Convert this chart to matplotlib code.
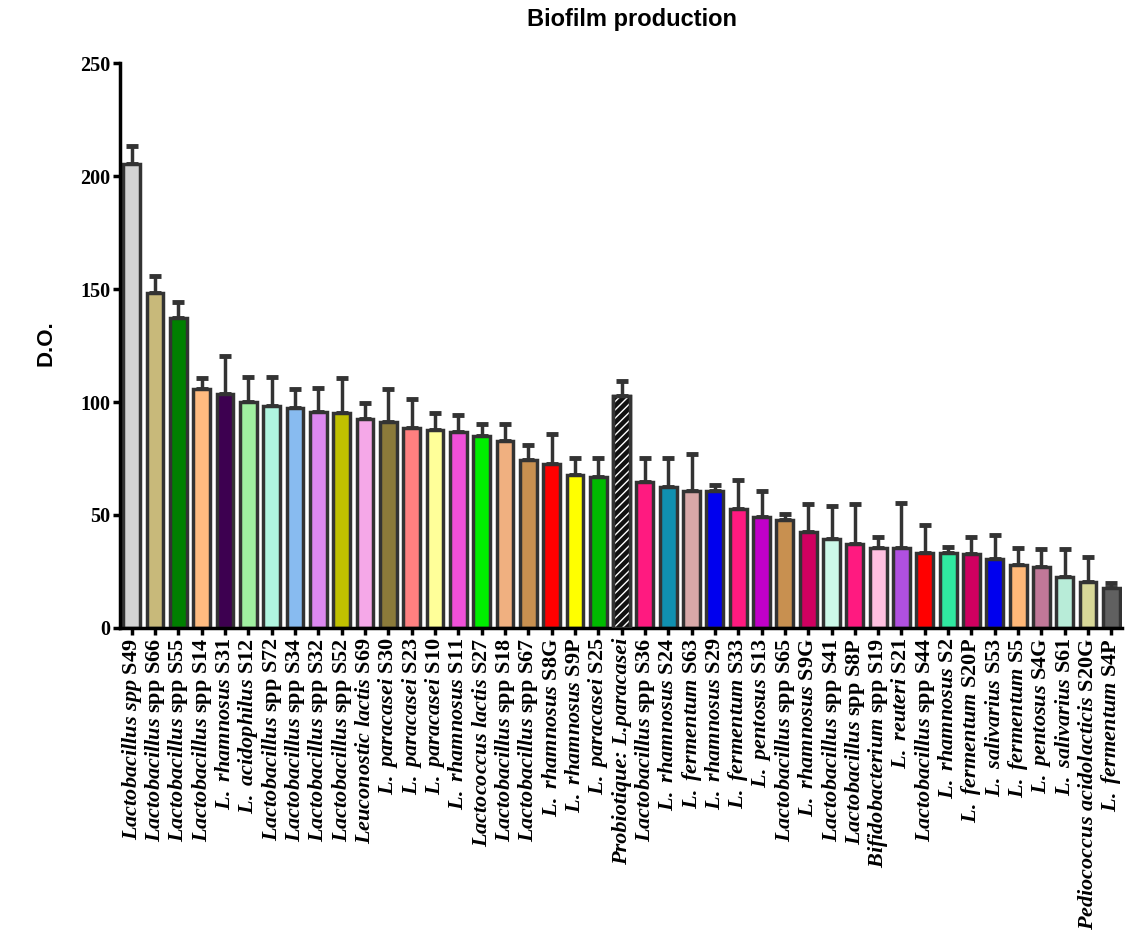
import numpy as np
import matplotlib
matplotlib.use("Agg")
import matplotlib.pyplot as plt

plt.rcParams['mathtext.fontset'] = 'custom'
plt.rcParams['mathtext.it'] = 'Liberation Serif:italic:bold'
plt.rcParams['mathtext.rm'] = 'Liberation Serif:bold'
plt.rcParams['mathtext.bf'] = 'Liberation Serif:bold'

# species (italic part) and strain (upright part)
species = ["Lactobacillus spp", "Lactobacillus", "Lactobacillus", "Lactobacillus",
           "L. rhamnosus", "L. acidophilus", "Lactobacillus", "Lactobacillus",
           "Lactobacillus", "Lactobacillus", "Leuconostic lactis", "L. paracasei",
           "L. paracasei", "L. paracasei", "L. rhamnosus", "Lactococcus lactis",
           "Lactobacillus", "Lactobacillus", "L. rhamnosus", "L. rhamnosus",
           "L. paracasei", "Probiotique: L.paracasei", "Lactobacillus", "L. rhamnosus",
           "L. fermentum", "L. rhamnosus", "L. fermentum", "L. pentosus",
           "Lactobacillus", "L. rhamnosus", "Lactobacillus", "Lactobacillus",
           "Bifidobacterium", "L. reuteri", "Lactobacillus", "L. rhamnosus",
           "L. fermentum", "L. salivarius", "L. fermentum", "L. pentosus",
           "L. salivarius", "Pediococcus acidolacticis", "L. fermentum"]
strains = ["S49", "spp S66", "spp S55", "spp S14", "S31", "S12", "spp S72", "spp S34",
           "spp S32", "spp S52", "S69", "S30", "S23", "S10", "S11", "S27",
           "spp S18", "spp S67", "S8G", "S9P", "S25", "", "spp S36", "S24",
           "S63", "S29", "S33", "S13", "spp S65", "S9G", "spp S41", "spp S8P",
           "spp S19", "S21", "spp S44", "S2", "S20P", "S53", "S5", "S4G",
           "S61", "S20G", "S4P"]

means = [205.2, 148.4, 137.3, 105.6, 103.4, 100.1, 98.4, 97.5, 95.4, 95.1,
         92.6, 91.0, 88.6, 87.5, 86.7, 85.1, 82.7, 74.2, 72.7, 67.7,
         67.0, 102.8, 64.7, 62.5, 60.6, 60.6, 52.7, 49.1, 47.9, 42.6,
         39.4, 37.0, 35.3, 35.3, 33.2, 33.2, 32.9, 30.4, 27.9, 27.1,
         22.6, 20.5, 17.6]
err_top = [213.4, 155.8, 144.4, 110.5, 120.5, 111.2, 111.2, 105.8, 106.3, 110.5,
           99.7, 105.8, 101.5, 95.3, 94.1, 90.3, 90.3, 80.8, 85.7, 75.4,
           75.4, 109.3, 75.1, 75.1, 77.0, 63.1, 65.5, 60.5, 50.6, 55.0,
           53.8, 54.9, 40.4, 55.3, 45.7, 35.7, 40.4, 41.2, 35.5, 34.8,
           34.8, 31.6, 19.8]

colors = ["#d3d3d3", "#c8b97a", "#008000", "#ffbb80", "#3d0050", "#a0f0a0",
          "#b0f5e0", "#88bbf0", "#dd88f0", "#c0c000", "#f5a8e8", "#8b7a3a",
          "#ff8080", "#ffff99", "#f050d8", "#00ee00", "#f0b080", "#c89050",
          "#ff0000", "#ffff00", "#00bb00", "#111111", "#ff1a80", "#1090b0",
          "#d8a8a8", "#0000ee", "#ff1a80", "#c000c8", "#c89050", "#d00060",
          "#ccf8e8", "#ff1a80", "#ffc0e0", "#b050e0", "#ff0000", "#30e8a0",
          "#d00060", "#0000ee", "#ffb878", "#c07898", "#b8ecd8", "#d8d898",
          "#606060"]
hatched = 21


def make_label(sp, st):
    if not st:
        # fully italic label, drawn as plain italic text
        return sp
    it = sp.replace(" ", r"\ ")
    return r"$\mathit{" + it + "}$ " + st


labels = [make_label(a, b) for a, b in zip(species, strains)]

x = np.arange(len(means))
means = np.array(means)
err = np.array(err_top) - means

fig = plt.figure(figsize=(11.39, 9.38), dpi=100)
ax = fig.add_axes([0.1054, 0.3305, 0.8796, 0.6023])

edge = "#333333"
ax.errorbar(x, means, yerr=[np.zeros_like(err), err], fmt="none",
            ecolor=edge, elinewidth=2.5, capsize=4, capthick=3.5, zorder=1)
bars = ax.bar(x, means, width=0.72, color=colors, edgecolor=edge,
              linewidth=2.5, zorder=2)
# hatched probiotic bar: white stripes on black
ax.bar(x[hatched], means[hatched], width=0.72, color="#111111",
       edgecolor="white", hatch="////", linewidth=0, zorder=3)
ax.bar(x[hatched], means[hatched], width=0.72, fill=False,
       edgecolor=edge, linewidth=2.5, zorder=4)

ax.set_xlim(-0.5, len(means) - 0.55)
ax.set_ylim(0, 250)
ax.set_yticks([0, 50, 100, 150, 200, 250])
ax.set_xticks(x)
ax.set_xticklabels(labels, rotation=90, fontsize=16,
                   family="Liberation Serif", fontweight="bold")
for i, t in enumerate(ax.get_xticklabels()):
    if not strains[i]:
        t.set_style("italic")
for t in ax.get_yticklabels():
    t.set_family("Liberation Serif")
    t.set_fontweight("bold")
    t.set_fontsize(14.5)

for s in ["top", "right"]:
    ax.spines[s].set_visible(False)
ax.spines["left"].set_linewidth(2.5)
ax.spines["bottom"].set_linewidth(2.5)
ax.tick_params(axis="both", width=2.5, length=5, direction="out", pad=2)

fig.text(0.555, 0.979, "Biofilm production", ha="center", va="center",
         fontsize=17, fontweight="bold", family="Liberation Sans")
fig.text(0.040, 0.634, "D.O.", ha="center", va="center", rotation=90,
         fontsize=16, fontweight="bold", family="Liberation Sans")

fig.savefig("out.png", dpi=100)
